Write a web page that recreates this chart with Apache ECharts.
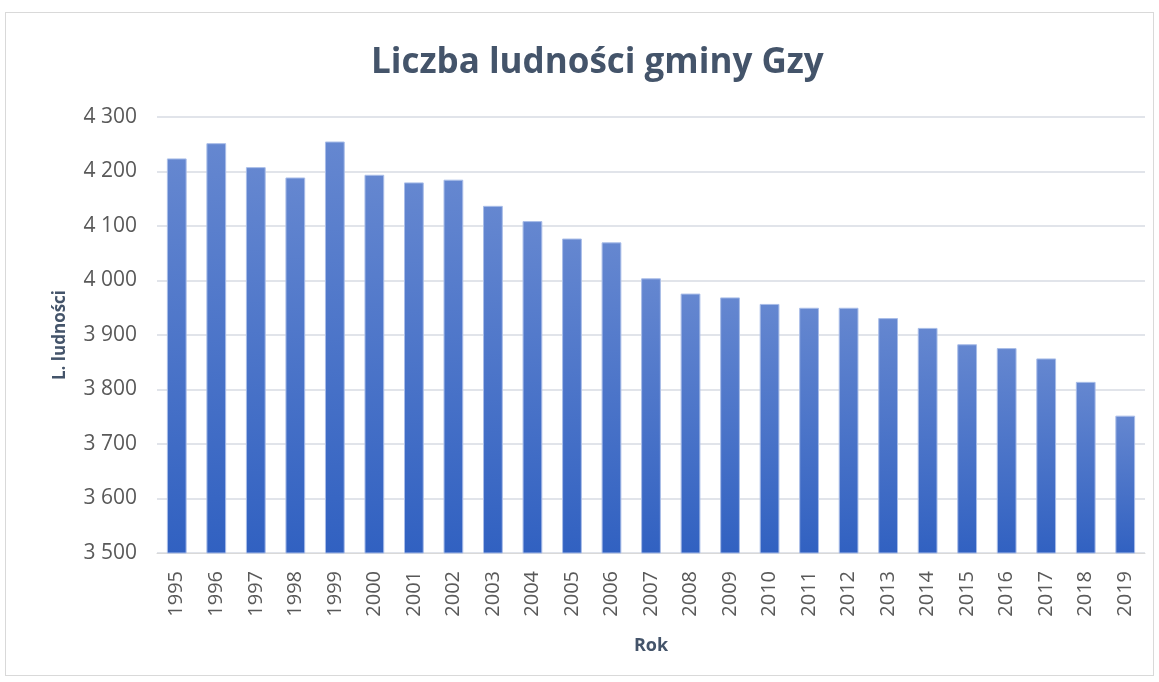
<!DOCTYPE html>
<html>
<head>
<meta charset="utf-8">
<script src="https://cdn.jsdelivr.net/npm/echarts@6/dist/echarts.min.js"></script>
<style>
  html, body { margin: 0; padding: 0; background: #fff; }
  #frame {
    position: absolute; left: 5px; top: 12px; width: 1149px; height: 664px;
    border: 1px solid #d9d9d9; box-sizing: border-box;
  }
  #chart { position: absolute; left: 0; top: 0; width: 1159px; height: 682px; }
</style>
</head>
<body>
<div id="frame"></div>
<div id="chart"></div>
<script>
  // dane
  const years = ['1995', '1996', '1997', '1998', '1999', '2000', '2001', '2002', '2003', '2004',
    '2005', '2006', '2007', '2008', '2009', '2010', '2011', '2012', '2013', '2014',
    '2015', '2016', '2017', '2018', '2019'];
  const population = [4224, 4252, 4208, 4189, 4255, 4194, 4180, 4185, 4137, 4109,
    4077, 4070, 4004, 3976, 3969, 3957, 3950, 3950, 3931, 3913,
    3883, 3876, 3857, 3814, 3752];
  const yTicks = { min: 3500, max: 4300, step: 100 };

  const fmt = v => String(v).replace(/\B(?=(\d{3})+(?!\d))/g, ' ');

  const myChart = echarts.init(document.getElementById('chart'));
  const option = {
    animation: false,
    title: {
      text: 'Liczba ludności gminy Gzy',
      left: 366,
      top: 41,
      textStyle: { fontFamily: 'Open Sans', fontSize: 35, fontWeight: 'bold', color: '#44546a' }
    },
    grid: { left: 157, right: 14, top: 117, bottom: 129, containLabel: false },
    xAxis: {
      type: 'category',
      data: years,
      name: 'Rok',
      nameLocation: 'middle',
      nameGap: 84,
      nameTextStyle: { fontFamily: 'Open Sans', fontSize: 18, fontWeight: 'bold', color: '#44546a' },
      axisLine: { lineStyle: { color: '#d9d9d9' } },
      axisTick: { show: false },
      axisLabel: { rotate: 90, fontFamily: 'Open Sans', fontSize: 20, color: '#595959', margin: 18, interval: 0 }
    },
    yAxis: {
      type: 'value',
      min: yTicks.min,
      max: yTicks.max,
      interval: yTicks.step,
      name: 'L. ludności',
      nameLocation: 'middle',
      nameGap: 88,
      nameRotate: 90,
      nameTextStyle: { fontFamily: 'Open Sans', fontSize: 17, fontWeight: 'bold', color: '#44546a' },
      axisLine: { show: false },
      axisTick: { show: false },
      axisLabel: { fontFamily: 'Open Sans', fontSize: 21, color: '#595959', margin: 20, formatter: fmt },
      splitLine: { lineStyle: { color: '#e1e4ea', width: 2 } }
    },
    series: [{
      type: 'bar',
      data: population,
      barWidth: '50%',
      itemStyle: {
        color: new echarts.graphic.LinearGradient(0, 0, 0, 1, [
          { offset: 0, color: '#6587d0' },
          { offset: 1, color: '#3161c1' }
        ]),
        borderColor: '#a9bde8',
        borderWidth: 1
      }
    }]
  };
  myChart.setOption(option);
</script>
</body>
</html>
